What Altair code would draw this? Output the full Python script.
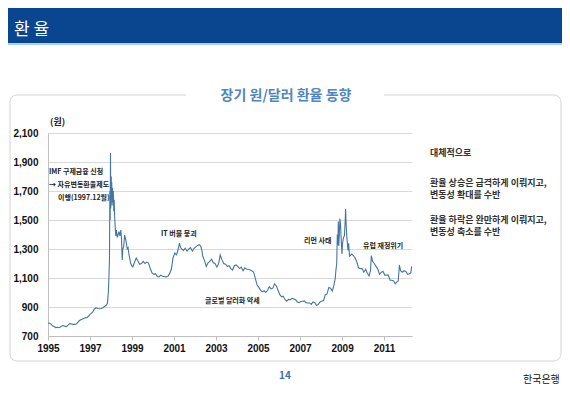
import altair as alt
import pandas as pd

# ---- data -------------------------------------------------------------
dates = [
    "1995-01-02", "1995-02-01", "1995-03-01", "1995-03-20", "1995-04-15", "1995-05-15", "1995-06-15",
    "1995-07-15", "1995-08-15", "1995-09-15", "1995-10-15", "1995-11-15", "1995-12-15",
    "1996-01-15", "1996-02-15", "1996-03-15", "1996-04-15", "1996-05-15", "1996-06-15",
    "1996-07-15", "1996-08-15", "1996-09-15", "1996-10-15", "1996-11-15", "1996-12-15",
    "1997-01-15", "1997-02-15", "1997-03-15", "1997-04-15", "1997-05-15", "1997-06-15",
    "1997-07-15", "1997-08-15", "1997-09-15", "1997-10-15", "1997-10-31", "1997-11-15",
    "1997-11-25", "1997-12-05", "1997-12-12", "1997-12-17", "1997-12-23", "1997-12-27",
    "1998-01-05", "1998-01-09", "1998-01-14", "1998-01-20", "1998-01-27", "1998-02-03",
    "1998-02-10", "1998-02-18", "1998-02-25", "1998-03-05", "1998-03-15", "1998-03-25",
    "1998-04-05", "1998-04-20", "1998-05-05", "1998-05-20", "1998-06-05", "1998-06-20",
    "1998-07-01", "1998-07-15", "1998-07-25", "1998-08-10", "1998-08-25", "1998-09-10",
    "1998-09-25", "1998-10-10", "1998-10-25", "1998-11-10", "1998-11-25", "1998-12-10", "1998-12-25",
    "1999-01-15", "1999-02-15", "1999-03-15", "1999-04-15", "1999-05-15", "1999-06-15",
    "1999-07-15", "1999-08-15", "1999-09-15", "1999-10-15", "1999-11-15", "1999-12-15",
    "2000-01-15", "2000-02-15", "2000-03-15", "2000-04-15", "2000-05-15", "2000-06-15",
    "2000-07-15", "2000-08-15", "2000-09-15", "2000-10-15", "2000-11-15", "2000-12-15",
    "2001-01-15", "2001-02-15", "2001-03-15", "2001-04-05", "2001-04-25", "2001-05-15",
    "2001-06-15", "2001-07-15", "2001-08-15", "2001-09-15", "2001-10-15", "2001-11-15", "2001-12-15",
    "2002-01-15", "2002-02-15", "2002-03-15", "2002-04-10", "2002-04-30", "2002-05-15",
    "2002-06-15", "2002-07-15", "2002-08-15", "2002-09-15", "2002-10-15", "2002-11-15", "2002-12-15",
    "2003-01-15", "2003-02-15", "2003-03-15", "2003-04-15", "2003-05-15", "2003-06-15",
    "2003-07-15", "2003-08-15", "2003-09-15", "2003-10-15", "2003-11-15", "2003-12-15",
    "2004-01-15", "2004-02-15", "2004-03-15", "2004-04-15", "2004-05-15", "2004-06-15",
    "2004-07-15", "2004-08-15", "2004-09-15", "2004-10-15", "2004-11-15", "2004-12-15",
    "2005-01-15", "2005-02-15", "2005-03-15", "2005-04-15", "2005-05-15", "2005-06-15",
    "2005-07-15", "2005-08-15", "2005-09-15", "2005-10-15", "2005-11-15", "2005-12-15",
    "2006-01-15", "2006-02-15", "2006-03-15", "2006-04-15", "2006-05-15", "2006-06-15",
    "2006-07-15", "2006-08-15", "2006-09-15", "2006-10-15", "2006-11-15", "2006-12-15",
    "2007-01-15", "2007-02-15", "2007-03-15", "2007-04-15", "2007-05-15", "2007-06-15",
    "2007-07-15", "2007-08-15", "2007-09-15", "2007-10-15", "2007-11-15", "2007-12-15",
    "2008-01-15", "2008-02-15", "2008-03-15", "2008-04-15", "2008-05-15", "2008-06-15",
    "2008-07-15", "2008-08-15", "2008-09-05", "2008-09-15", "2008-09-30", "2008-10-10",
    "2008-10-20", "2008-10-28", "2008-11-05", "2008-11-14", "2008-11-24", "2008-12-05",
    "2008-12-15", "2008-12-30",
    "2009-01-10", "2009-01-25", "2009-02-10", "2009-02-25", "2009-03-03", "2009-03-12",
    "2009-03-25", "2009-04-05", "2009-04-15", "2009-04-25", "2009-05-10", "2009-05-25",
    "2009-06-15", "2009-07-15", "2009-08-15", "2009-09-15", "2009-10-15", "2009-11-15", "2009-12-15",
    "2010-01-15", "2010-02-15", "2010-03-15", "2010-04-15", "2010-05-10", "2010-05-25",
    "2010-06-15", "2010-07-15", "2010-08-15", "2010-09-15", "2010-10-15", "2010-11-15", "2010-12-15",
    "2011-01-15", "2011-02-15", "2011-03-15", "2011-04-15", "2011-05-15", "2011-06-15",
    "2011-07-15", "2011-08-15", "2011-09-05", "2011-09-25", "2011-10-15", "2011-11-15", "2011-12-15",
    "2012-01-15", "2012-02-15", "2012-03-15", "2012-04-10", "2012-04-25",
]
rates = [
    790, 788, 780, 770, 765, 758, 760, 757, 765, 772, 768, 765, 775,
    785, 783, 780, 780, 785, 800, 810, 815, 822, 825, 828, 840,
    855, 865, 885, 895, 890, 888, 890, 895, 905, 915, 925, 1000,
    1100, 1230, 1700, 1500, 1962, 1580,
    1800, 1650, 1760, 1600, 1720, 1620,
    1700, 1560, 1640, 1520, 1450, 1390,
    1430, 1380, 1400, 1420, 1390, 1430,
    1380, 1224, 1300, 1320, 1396, 1370,
    1340, 1300, 1310, 1260, 1230, 1200, 1185,
    1176, 1210, 1238, 1215, 1195, 1200, 1215, 1200, 1210, 1203, 1165, 1135,
    1125, 1130, 1110, 1108, 1120, 1112, 1110, 1108, 1110, 1130, 1160, 1240,
    1272, 1260, 1300, 1341, 1310, 1300, 1290, 1305, 1285, 1300, 1310, 1285, 1305,
    1315, 1325, 1330, 1320, 1290, 1250, 1220, 1180, 1205, 1215, 1230, 1205, 1200,
    1175, 1200, 1259, 1225, 1200, 1195, 1180, 1185, 1165, 1155, 1185, 1190,
    1180, 1165, 1175, 1150, 1170, 1160, 1160, 1155, 1150, 1140, 1095, 1052,
    1035, 1015, 1005, 1012, 1000, 1015, 1040, 1025, 1030, 1060, 1045, 1015,
    985, 970, 975, 950, 940, 952, 950, 960, 955, 950, 935, 930,
    938, 940, 942, 930, 928, 928, 918, 935, 930, 910, 918, 935,
    942, 945, 985, 990, 1035, 1030, 1010, 1055, 1100, 1150, 1200, 1400,
    1330, 1490, 1320, 1400, 1510, 1470, 1380, 1265,
    1340, 1380, 1390, 1500, 1576, 1480, 1380, 1330, 1290, 1340, 1250, 1255,
    1265, 1255, 1240, 1210, 1170, 1165, 1165,
    1140, 1160, 1135, 1115, 1150, 1255, 1215, 1200, 1180, 1160, 1125, 1140, 1145,
    1120, 1120, 1120, 1085, 1085, 1080, 1060, 1075, 1080, 1190, 1150, 1140, 1150,
    1145, 1125, 1130, 1135, 1180,
]
year_ticks = [1995, 1997, 1999, 2001, 2003, 2005, 2007, 2009, 2011]
y_ticks = [700, 900, 1100, 1300, 1500, 1700, 1900, 2100]

header_text = "환 율"
chart_title = "장기 원/달러 환율 동향"
unit_text = "(원)"
imf_lines = ["IMF 구제금융 신청", "→ 자유변동환율제도", "이행(1997.12월)"]
note_it = "IT 버블 붕괴"
note_lehman = "리먼 사태"
note_euro = "유럽 재정위기"
note_weak = "글로벌 달러화 약세"
side_lines = ["대체적으로", "환율 상승은 급격하게 이뤄지고,", "변동성 확대를 수반",
              "환율 하락은 완만하게 이뤄지고,", "변동성 축소를 수반"]
page_no = "14"
footer = "한국은행"

df = pd.DataFrame({"date": dates, "rate": rates})
one = pd.DataFrame({"k": [0]})

KR = "Noto Sans CJK KR"
NUM = "Liberation Sans"

W, H = 364, 203

x_scale = alt.Scale(type="utc",
                    domain=[alt.DateTime(year=1995, month=1, date=1, utc=True),
                            alt.DateTime(year=2012, month=5, date=1, utc=True)])
x_axis = alt.Axis(title=None, values=[alt.DateTime(year=y, month=1, date=1, utc=True) for y in year_ticks],
                  format="%Y", formatType="utc", grid=False, tickSize=4, tickColor="#bfbfbf",
                  domainColor="#bfbfbf", labelPadding=3, labelFont=NUM, labelFontWeight="bold",
                  labelFontSize=10, labelColor="#111", labelFlush=False)
y_axis = alt.Axis(title=None, values=y_ticks, format=",d", grid=True, gridColor="#d9d9d9",
                  ticks=False, domainColor="#bfbfbf", labelPadding=10, labelFont=NUM,
                  labelFontWeight="bold", labelFontSize=10, labelColor="#111")

line = alt.Chart(df).mark_line(color="#4675a3", strokeWidth=1.1).encode(
    x=alt.X("date:T", scale=x_scale, axis=x_axis),
    y=alt.Y("rate:Q", scale=alt.Scale(domain=[700, 2100], nice=False, zero=False), axis=y_axis),
)

def rect(x1, x2, y1, y2, **kw):
    return alt.Chart(one).mark_rect(**kw).encode(
        x=alt.value(x1), x2=alt.value(x2), y=alt.value(y1), y2=alt.value(y2))

def txt(t, x, y, size, color="#222", weight="bold", align="left", font=KR):
    return alt.Chart(one).mark_text(text=t, align=align, baseline="middle", fontSize=size,
                                    fontWeight=weight, color=color, font=font).encode(
        x=alt.value(x), y=alt.value(y))

layers = [
    rect(-48, 522, -133, -90, color="#0a4690"),
    rect(-48, 522, -90, -88, color="#a9d3f2"),
    rect(-38, 513, -38, 228, filled=False, stroke="#d4d4d4", strokeWidth=1, cornerRadius=7),
    rect(138, 336, -45, -31, color="white"),
    txt(header_text, -34, -103, 17, color="white", weight="normal"),
    txt(chart_title, 238, -37, 14, color="#4f86bd", align="center"),
    txt(unit_text, 2, -11, 9),
    line,
    txt(imf_lines[0], 1, 39, 7),
    txt(imf_lines[1], 1, 52, 7),
    txt(imf_lines[2], 10, 65, 7),
    txt(note_it, 113, 101, 7),
    txt(note_lehman, 256, 108, 7),
    txt(note_euro, 315, 113, 7),
    txt(note_weak, 157, 168, 7),
    txt(side_lines[0], 382, 20, 9, color="#333"),
    txt(side_lines[1], 382, 50, 9, color="#333"),
    txt(side_lines[2], 382, 62, 9, color="#333"),
    txt(side_lines[3], 382, 87, 9, color="#333"),
    txt(side_lines[4], 382, 99, 9, color="#333"),
    txt(page_no, 231, 243, 10, color="#3f6fb0"),
    txt(footer, 475, 247, 10, color="#111", weight="normal"),
]

chart = alt.layer(*layers).properties(
    width=W, height=H,
    autosize=alt.AutoSizeParams(type="none"),
    padding={"left": 40, "top": 125, "right": 150, "bottom": 50},
    background="white",
).configure_view(stroke=None)

chart.save("out.html", embed_options={"renderer": "svg", "actions": False})
